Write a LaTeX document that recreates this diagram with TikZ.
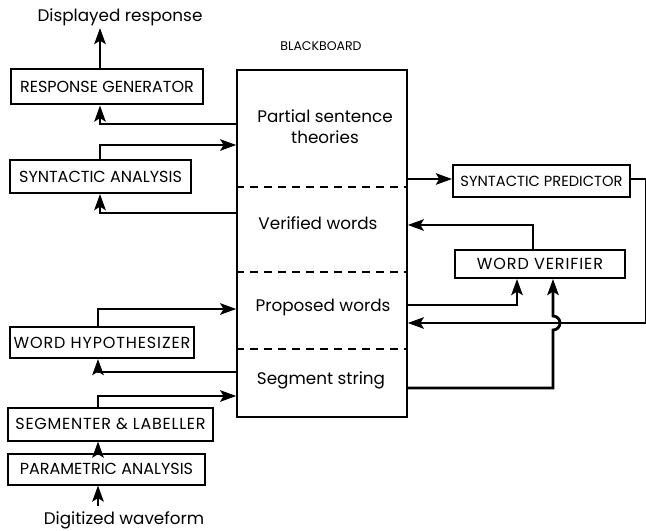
\documentclass[tikz,border=0pt]{standalone}
\usepackage{fontspec}
\setmainfont{Poppins}
\usetikzlibrary{arrows.meta}

\tikzset{
  unitbox/.style={draw, line width=1.5pt, inner sep=0pt, align=center,
    font=\fontsize{12}{14}\selectfont},
  board/.style={draw, line width=1.1pt, inner sep=0pt},
  conn/.style={line width=2.1pt, line cap=butt, line join=miter},
  tip/.style={-{Stealth[length=12pt,width=8.5pt,inset=2.5pt]}},
  divider/.style={line width=0.9pt, dash pattern=on 6pt off 4.5pt},
  areatext/.style={font=\fontsize{12.6}{15.5}\selectfont, align=center, inner sep=0pt},
  outertext/.style={font=\fontsize{12.6}{15}\selectfont, inner sep=0pt},
}

\begin{document}
\begin{tikzpicture}[x=0.75pt, y=-0.75pt]
\useasboundingbox (0,0) rectangle (646,531);

% the blackboard and its four areas
\node[board, minimum width=170*0.75pt, minimum height=347*0.75pt] (bb) at (322,243.5) {};
\node[font=\fontsize{9.4}{11}\selectfont, inner sep=0pt] (bbtitle) at (321,46) {BLACKBOARD};
\draw[divider] (bb.west |- 0,187) -- (bb.east |- 0,187);
\draw[divider] (bb.west |- 0,272) -- (bb.east |- 0,272);
\draw[divider] (bb.west |- 0,349) -- (bb.east |- 0,349);
\node[areatext] (a1) at (325,127) {Partial sentence\\theories};
\node[areatext] (a2) at (318,223) {Verified words};
\node[areatext] (a3) at (323,307) {Proposed words};
\node[areatext] (a4) at (321,380) {Segment string};

% knowledge sources on the left
\node[unitbox, minimum width=192*0.75pt, minimum height=35*0.75pt] (rg) at (107,87) {RESPONSE GENERATOR};
\node[unitbox, minimum width=181*0.75pt, minimum height=33*0.75pt] (sa) at (100.5,176.5) {SYNTACTIC ANALYSIS};
\node[unitbox, minimum width=184*0.75pt, minimum height=31*0.75pt] (wh) at (102,342.5)
  {\addfontfeature{LetterSpace=5.5}WORD HYPOTHESIZER};
\node[unitbox, minimum width=205*0.75pt, minimum height=33*0.75pt] (sl) at (110.5,424)
  {\addfontfeature{LetterSpace=4.6}SEGMENTER \& LABELLER};
\node[unitbox, minimum width=197*0.75pt, minimum height=31*0.75pt] (pa) at (106.5,469) {PARAMETRIC ANALYSIS};

% knowledge sources on the right
\node[unitbox, minimum width=177*0.75pt, minimum height=32*0.75pt, font=\fontsize{11}{13}\selectfont] (sp) at (541.5,181) {SYNTACTIC PREDICTOR};
\node[unitbox, minimum width=170*0.75pt, minimum height=28*0.75pt] (wv) at (540,264)
  {\addfontfeature{LetterSpace=5.7}WORD VERIFIER};

% input and output
\node[outertext] (out) at (120,17) {Displayed response};
\node[outertext] (in) at (124,520) {Digitized waveform};
\coordinate (outend) at (100,28);
\coordinate (inend) at (98,506);

% left-hand connections
\draw[conn, tip] (rg.north -| outend) -- (outend);
\draw[conn, tip] (bb.west |- 0,124) -| (rg.south -| 100,0);
\draw[conn, tip] (sa.north -| 100,0) |- (bb.west |- 0,145);
\draw[conn, tip] (bb.west |- 0,213) -| (sa.south -| 100,0);
\draw[conn, tip] (wh.north -| 98,0) |- (bb.west |- 0,309);
\draw[conn, tip] (bb.west |- 0,372) -| (wh.south -| 98,0);
\draw[conn, tip] (sl.north -| 98,0) |- (bb.west |- 0,396);
\draw[conn, tip] (pa.north -| 98,0) -- (sl.south -| 98,0);
\draw[conn, tip] (inend) -- (pa.south -| inend);

% right-hand connections
\draw[conn, tip] (bb.east |- 0,179) -- (sp.west |- 0,179);
\coordinate (loopA) at (646,179);
\coordinate (loopB) at (646,323);
\draw[conn, tip] (sp.east |- loopA) -- (loopA) -- (loopB) -- (bb.east |- loopB);
\draw[conn, tip] (wv.north -| 533,0) |- (bb.east |- 0,225);
\draw[conn, tip] (bb.east |- 0,305) -| (wv.south -| 517,0);
\coordinate (hop) at (553,330);
\draw[conn, tip] (bb.east |- 0,388) -| (hop)
  arc[start angle=-90, end angle=90, radius=7*0.75pt] -- (wv.south -| hop);
\end{tikzpicture}
\end{document}
